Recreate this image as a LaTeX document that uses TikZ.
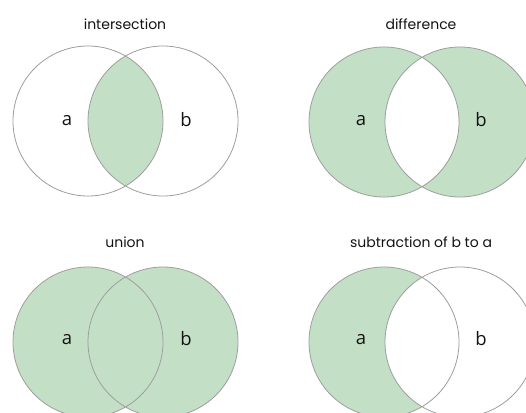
\documentclass[tikz,border=0pt]{standalone}
\usepackage{fontspec}
\setmainfont{Open Sans}
\newfontfamily\titlefont{Poppins}
\usepackage{tikz}
\usetikzlibrary{positioning}
\definecolor{setfill}{RGB}{195,224,198}
\definecolor{setline}{RGB}{158,158,158}
\tikzset{
  settitle/.style={font=\titlefont\fontsize{14}{16}\selectfont,text=black!92},
  setlabel/.style={font=\fontsize{18.5}{20}\selectfont,text=black!92},
  setring/.style={draw=setline,line width=0.8pt},
}

\begin{document}
\begin{tikzpicture}[x=1pt,y=-1pt]
    \useasboundingbox (0,0) rectangle (526,412);
    \clip (0,0) rectangle (526,412);
    \fill[white] (0,0) rectangle (526,412);
    % intersection
    \begin{scope}
      \clip (88,121) circle (75);
      \fill[setfill] (163,121) circle (75);
    \end{scope}
    \draw[setring] (88,121) circle (75) (163,121) circle (75);
    \node[settitle] (tinter) at (125,24) {intersection};
    \node[setlabel] (ainter) at (67,121) {a};
    \node[setlabel] (binter) at (186,120) {b};
    % difference
    \fill[setfill,even odd rule] (384,122) circle (75) (460,122) circle (75);
    \draw[setring] (384,122) circle (75) (460,122) circle (75);
    \node[settitle] (tdiff) at (421,24) {difference};
    \node[setlabel] (adiff) at (361,121) {a};
    \node[setlabel] (bdiff) at (481,120) {b};
    % union
    \fill[setfill] (88,342) circle (75) (163,342) circle (75);
    \draw[setring] (88,342) circle (75) (163,342) circle (75);
    \node[settitle] (tunion) at (125,242) {union};
    \node[setlabel] (aunion) at (67,340) {a};
    \node[setlabel] (bunion) at (186,339) {b};
    % subtraction
    \begin{scope}
      \clip (384,342) circle (75);
      \fill[setfill,even odd rule] (384,342) circle (75) (460,342) circle (75);
    \end{scope}
    \draw[setring] (384,342) circle (75) (460,342) circle (75);
    \node[settitle] (tsub) at (421,242) {subtraction of b to a};
    \node[setlabel] (asub) at (361,340) {a};
    \node[setlabel] (bsub) at (481,339) {b};
  \end{tikzpicture}
\end{document}
